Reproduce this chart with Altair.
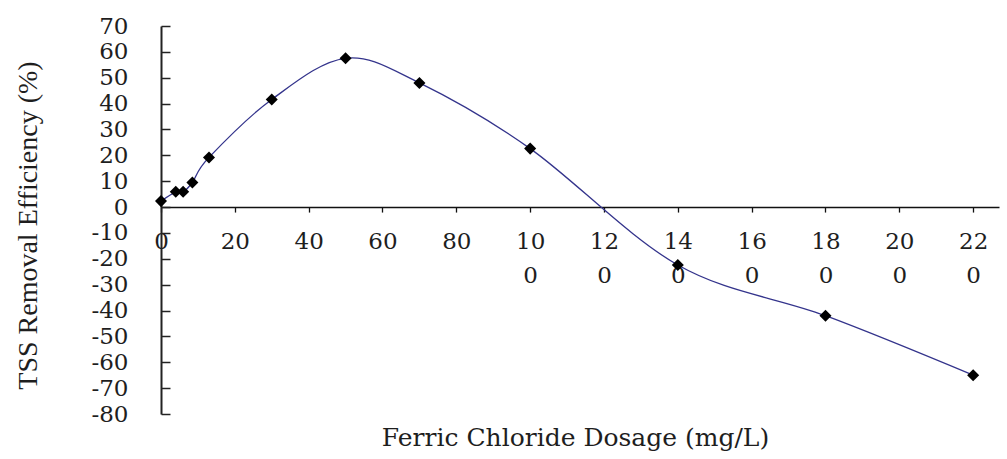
import altair as alt
import pandas as pd

# Ferric chloride dosage (mg/L) and TSS removal efficiency (%)
dose_mg_l = [0, 4, 6, 8.5, 13, 30, 50, 70, 100, 140, 180, 220]
tss_removal_pct = [2.3, 5.9, 5.9, 9.5, 19.2, 41.6, 57.5, 48.0, 22.6, -22.4, -42.0, -65.0]

x_tick_values = [0, 20, 40, 60, 80, 100, 120, 140, 160, 180, 200, 220]
y_tick_values = [-80, -70, -60, -50, -40, -30, -20, -10, 0, 10, 20, 30, 40, 50, 60, 70]

df = pd.DataFrame({"dose": dose_mg_l, "tss": tss_removal_pct})

W, H = 838, 388
X_DOMAIN = [0, 227]
Y_DOMAIN = [-80, 70]

# the x axis crosses the y axis at zero
x_axis_offset = -H * (0 - Y_DOMAIN[0]) / (Y_DOMAIN[1] - Y_DOMAIN[0])

x_scale = alt.Scale(domain=X_DOMAIN, nice=False, zero=False)
y_scale = alt.Scale(domain=Y_DOMAIN, nice=False, zero=False)

TEXT = "#1e1e1e"

x_axis = alt.Axis(
    values=x_tick_values,
    offset=x_axis_offset,
    grid=False,
    domainColor="#111111",
    domainWidth=1.5,
    tickColor="#111111",
    tickSize=5,
    tickWidth=1.3,
    labelFont="DejaVu Serif",
    labelFontSize=23,
    labelColor=TEXT,
    labelPadding=18,
    labelLineHeight=34,
    labelFlush=False,
    labelOverlap=False,
    labelBound=False,
    labelExpr="datum.value >= 100 ? [substring(datum.label, 0, 2), substring(datum.label, 2)] : datum.label",
    title="Ferric Chloride Dosage (mg/L)",
    titleFont="DejaVu Serif",
    titleFontSize=25,
    titleFontWeight="normal",
    titleColor=TEXT,
    titleX=414,
    titleY=230,
    titleAlign="center",
    titleBaseline="middle",
)

# left axis: labels and title only
y_axis_labels = alt.Axis(
    orient="left",
    values=y_tick_values,
    grid=False,
    ticks=False,
    tickSize=0,
    domain=False,
    labelFont="DejaVu Serif",
    labelFontSize=23,
    labelColor=TEXT,
    labelPadding=33,
    labelOverlap=False,
    labelBound=False,
    labelExpr="datum.value < 0 ? '-' + abs(datum.value) : '' + datum.value",
    title="TSS Removal Efficiency (%)",
    titleFont="Liberation Serif",
    titleFontSize=28,
    titleFontWeight="normal",
    titleColor=TEXT,
    titleAngle=270,
    titleX=-133,
    titleY=199,
    titleAlign="center",
    titleBaseline="middle",
)

# second y axis sitting on the same line, with ticks pointing into the plot
y_axis_ticks = alt.Axis(
    orient="right",
    offset=-W,
    values=y_tick_values,
    grid=False,
    labels=False,
    domain=True,
    domainColor="#222222",
    domainWidth=2,
    tickColor="#222222",
    tickSize=9,
    tickWidth=1.5,
    title=None,
)

line = alt.Chart(df).mark_line(
    interpolate="cardinal", color="#34348c", strokeWidth=1.3
).encode(
    x=alt.X("dose:Q", scale=x_scale, axis=x_axis),
    y=alt.Y("tss:Q", scale=y_scale, axis=y_axis_labels),
)

points = alt.Chart(df).mark_point(
    shape="diamond", filled=True, color="black", opacity=1, size=145
).encode(
    x=alt.X("dose:Q", scale=x_scale, axis=x_axis),
    y=alt.Y("tss:Q", scale=y_scale, axis=y_axis_ticks),
)

chart = (
    alt.layer(line, points)
    .resolve_axis(y="independent")
    .properties(
        width=W,
        height=H,
        background="white",
        autosize=alt.AutoSizeParams(type="none"),
        padding={"left": 161, "top": 26, "right": 8, "bottom": 45},
    )
    .configure_view(strokeWidth=0)
)

chart.save("out.html", embed_options={"renderer": "svg", "actions": False})
